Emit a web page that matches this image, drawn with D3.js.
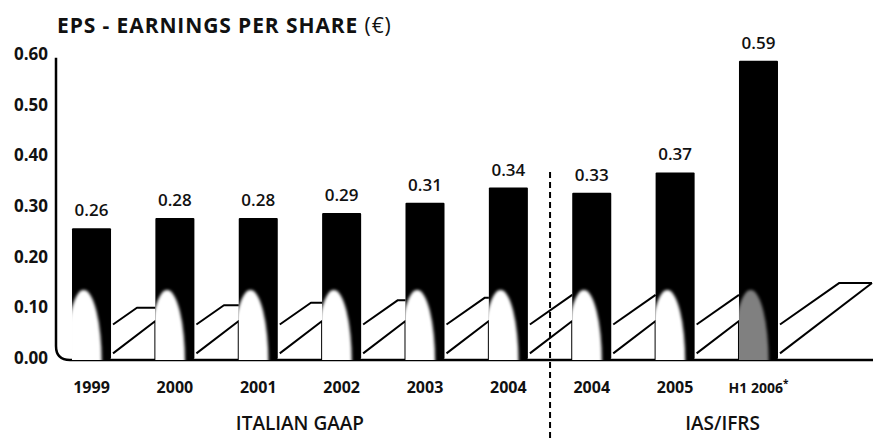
<!DOCTYPE html>
<html>
<head>
<meta charset="utf-8">
<script src="https://cdn.jsdelivr.net/npm/d3@7"></script>
<style>
  body { margin: 0; background: #fff; }
  svg { display: block; font-family: "Open Sans", sans-serif; }
</style>
</head>
<body>
<div class="chart"></div>
<script>
// chart data
var years = ["1999", "2000", "2001", "2002", "2003", "2004", "2004", "2005", "H1 2006"];
var eps = [0.26, 0.28, 0.28, 0.29, 0.31, 0.34, 0.33, 0.37, 0.59];
var groupOf = [0, 0, 0, 0, 0, 0, 1, 1, 1];
var groupNames = ["ITALIAN GAAP", "IAS/IFRS"];
var yTicks = [0, 0.1, 0.2, 0.3, 0.4, 0.5, 0.6];

var svgWidth = 873;
var svgHeight = 438;
var axisX = 56;
var baseY = 360;

var svg = d3.select(".chart")
    .append("svg")
    .attr("width", svgWidth)
    .attr("height", svgHeight);

var defs = svg.append("defs");
defs.append("filter").attr("id", "soft")
    .attr("x", "-50%").attr("y", "-50%").attr("width", "200%").attr("height", "200%")
    .append("feGaussianBlur").attr("stdDeviation", 1.6);

// scales
var keys = years.map((d, i) => i);
var x = d3.scaleBand()
    .domain(keys)
    .range([axisX, 794])
    .paddingInner(0.532)
    .paddingOuter(0.192);

var y = d3.scaleLinear()
    .domain([0, 0.6])
    .range([baseY, baseY - 0.6 * 507]);

var bw = x.bandwidth();

// title
var title = svg.append("text")
    .attr("x", 57)
    .attr("y", 33)
    .attr("font-size", 21)
    .attr("letter-spacing", 0.9)
    .attr("fill", "#111");
title.append("tspan").attr("font-weight", 700).text("EPS - EARNINGS PER SHARE ");
title.append("tspan").attr("font-weight", 400).text("(€)");

// y axis labels
svg.append("g").selectAll("text")
    .data(yTicks)
    .enter()
    .append("text")
    .attr("x", 48)
    .attr("y", d => y(d) - 2)
    .attr("dy", "0.36em")
    .attr("text-anchor", "end")
    .attr("font-size", 17)
    .attr("font-weight", 700)
    .attr("fill", "#111")
    .text(d => d3.format(".2f")(d));

// slanted ribbon decoration in the gaps between bars
var ribbon = svg.append("g")
    .attr("fill", "none")
    .attr("stroke", "#000")
    .attr("stroke-width", 2)
    .attr("stroke-linejoin", "round");

keys.forEach(function(i) {
    var L = x(i) + bw + 2;
    var last = i === keys.length - 1;
    var R = last ? svgWidth - 1 : x(i + 1);
    var slope = 0.7;
    var y0 = y(0.07);
    var topY = last ? y(0.152) : y(0.103 + 0.005 * i);
    var xTop = Math.min(R, L + (y0 - topY) / slope);
    var yEnd = y0 - (xTop - L) * slope;
    var up = [[L, y0], [xTop, yEnd]];
    if (xTop < R) up.push([R, yEnd]);
    ribbon.append("path").attr("d", d3.line()(up));

    var low = last
        ? [[L, y(0.013)], [R, yEnd]]
        : [[L, y(0.013)], [R, y(0.077)], [R, y(0)]];
    ribbon.append("path").attr("d", d3.line()(low));
});

// axis frame with rounded corner
var r = 14;
svg.append("path")
    .attr("d", "M" + axisX + "," + (y(0.6) + 2) +
        "V" + (baseY - r) +
        "Q" + axisX + "," + baseY + " " + (axisX + r) + "," + baseY +
        "H" + svgWidth)
    .attr("fill", "none")
    .attr("stroke", "#000")
    .attr("stroke-width", 2.5);

// bars
var bars = svg.append("g").selectAll("g")
    .data(keys)
    .enter()
    .append("g");

bars.append("clipPath")
    .attr("id", d => "clip" + d)
    .append("rect")
    .attr("x", d => x(d))
    .attr("y", d => y(eps[d]))
    .attr("width", bw)
    .attr("height", d => baseY - y(eps[d]));

bars.append("rect")
    .attr("x", d => x(d))
    .attr("y", d => y(eps[d]))
    .attr("width", bw)
    .attr("height", d => baseY - y(eps[d]) - 1)
    .attr("rx", 1)
    .attr("fill", "#000");

// whitish glow at the foot of each bar
bars.append("ellipse")
    .attr("clip-path", d => "url(#clip" + d + ")")
    .attr("cx", d => x(d) + bw * 0.3)
    .attr("cy", baseY + 2)
    .attr("rx", bw * 0.46)
    .attr("ry", 72)
    .attr("fill", "#fff")
    .attr("opacity", d => d === keys.length - 1 ? 0.5 : 1)
    .attr("filter", "url(#soft)");

// value labels
bars.append("text")
    .attr("x", d => x(d) + bw / 2)
    .attr("y", d => y(eps[d]) - 12)
    .attr("text-anchor", "middle")
    .attr("font-size", 17)
    .attr("font-weight", 600)
    .attr("fill", "#111")
    .text(d => d3.format(".2f")(eps[d]));

// year labels
var yearText = svg.append("g").selectAll("text")
    .data(keys)
    .enter()
    .append("text")
    .attr("x", d => x(d) + bw / 2)
    .attr("y", 393)
    .attr("text-anchor", "middle")
    .attr("font-size", d => years[d].indexOf("H1") === 0 ? 14 : 16)
    .attr("font-weight", 700)
    .attr("fill", "#111");
yearText.append("tspan").text(d => years[d]);
yearText.filter(d => years[d].indexOf("H1") === 0)
    .append("tspan")
    .attr("dy", -6)
    .attr("font-size", 10)
    .text("*");

// dashed separator between the two accounting standards
var firstIfrs = groupOf.indexOf(1);
var dashX = (x(firstIfrs - 1) + bw + x(firstIfrs)) / 2;
svg.append("line")
    .attr("x1", dashX).attr("x2", dashX)
    .attr("y1", 172).attr("y2", svgHeight)
    .attr("stroke", "#000")
    .attr("stroke-width", 2)
    .attr("stroke-dasharray", "6,4");

// group labels
groupNames.forEach(function(name, g) {
    var idx = keys.filter(i => groupOf[i] === g);
    var left = x(idx[0]);
    var right = g === groupNames.length - 1 ? svgWidth : x(idx[idx.length - 1]) + bw;
    svg.append("text")
        .attr("x", (left + right) / 2)
        .attr("y", 430)
        .attr("text-anchor", "middle")
        .attr("font-size", 19)
        .attr("font-weight", 600)
        .attr("fill", "#111")
        .text(name);
});
</script>
</body>
</html>
